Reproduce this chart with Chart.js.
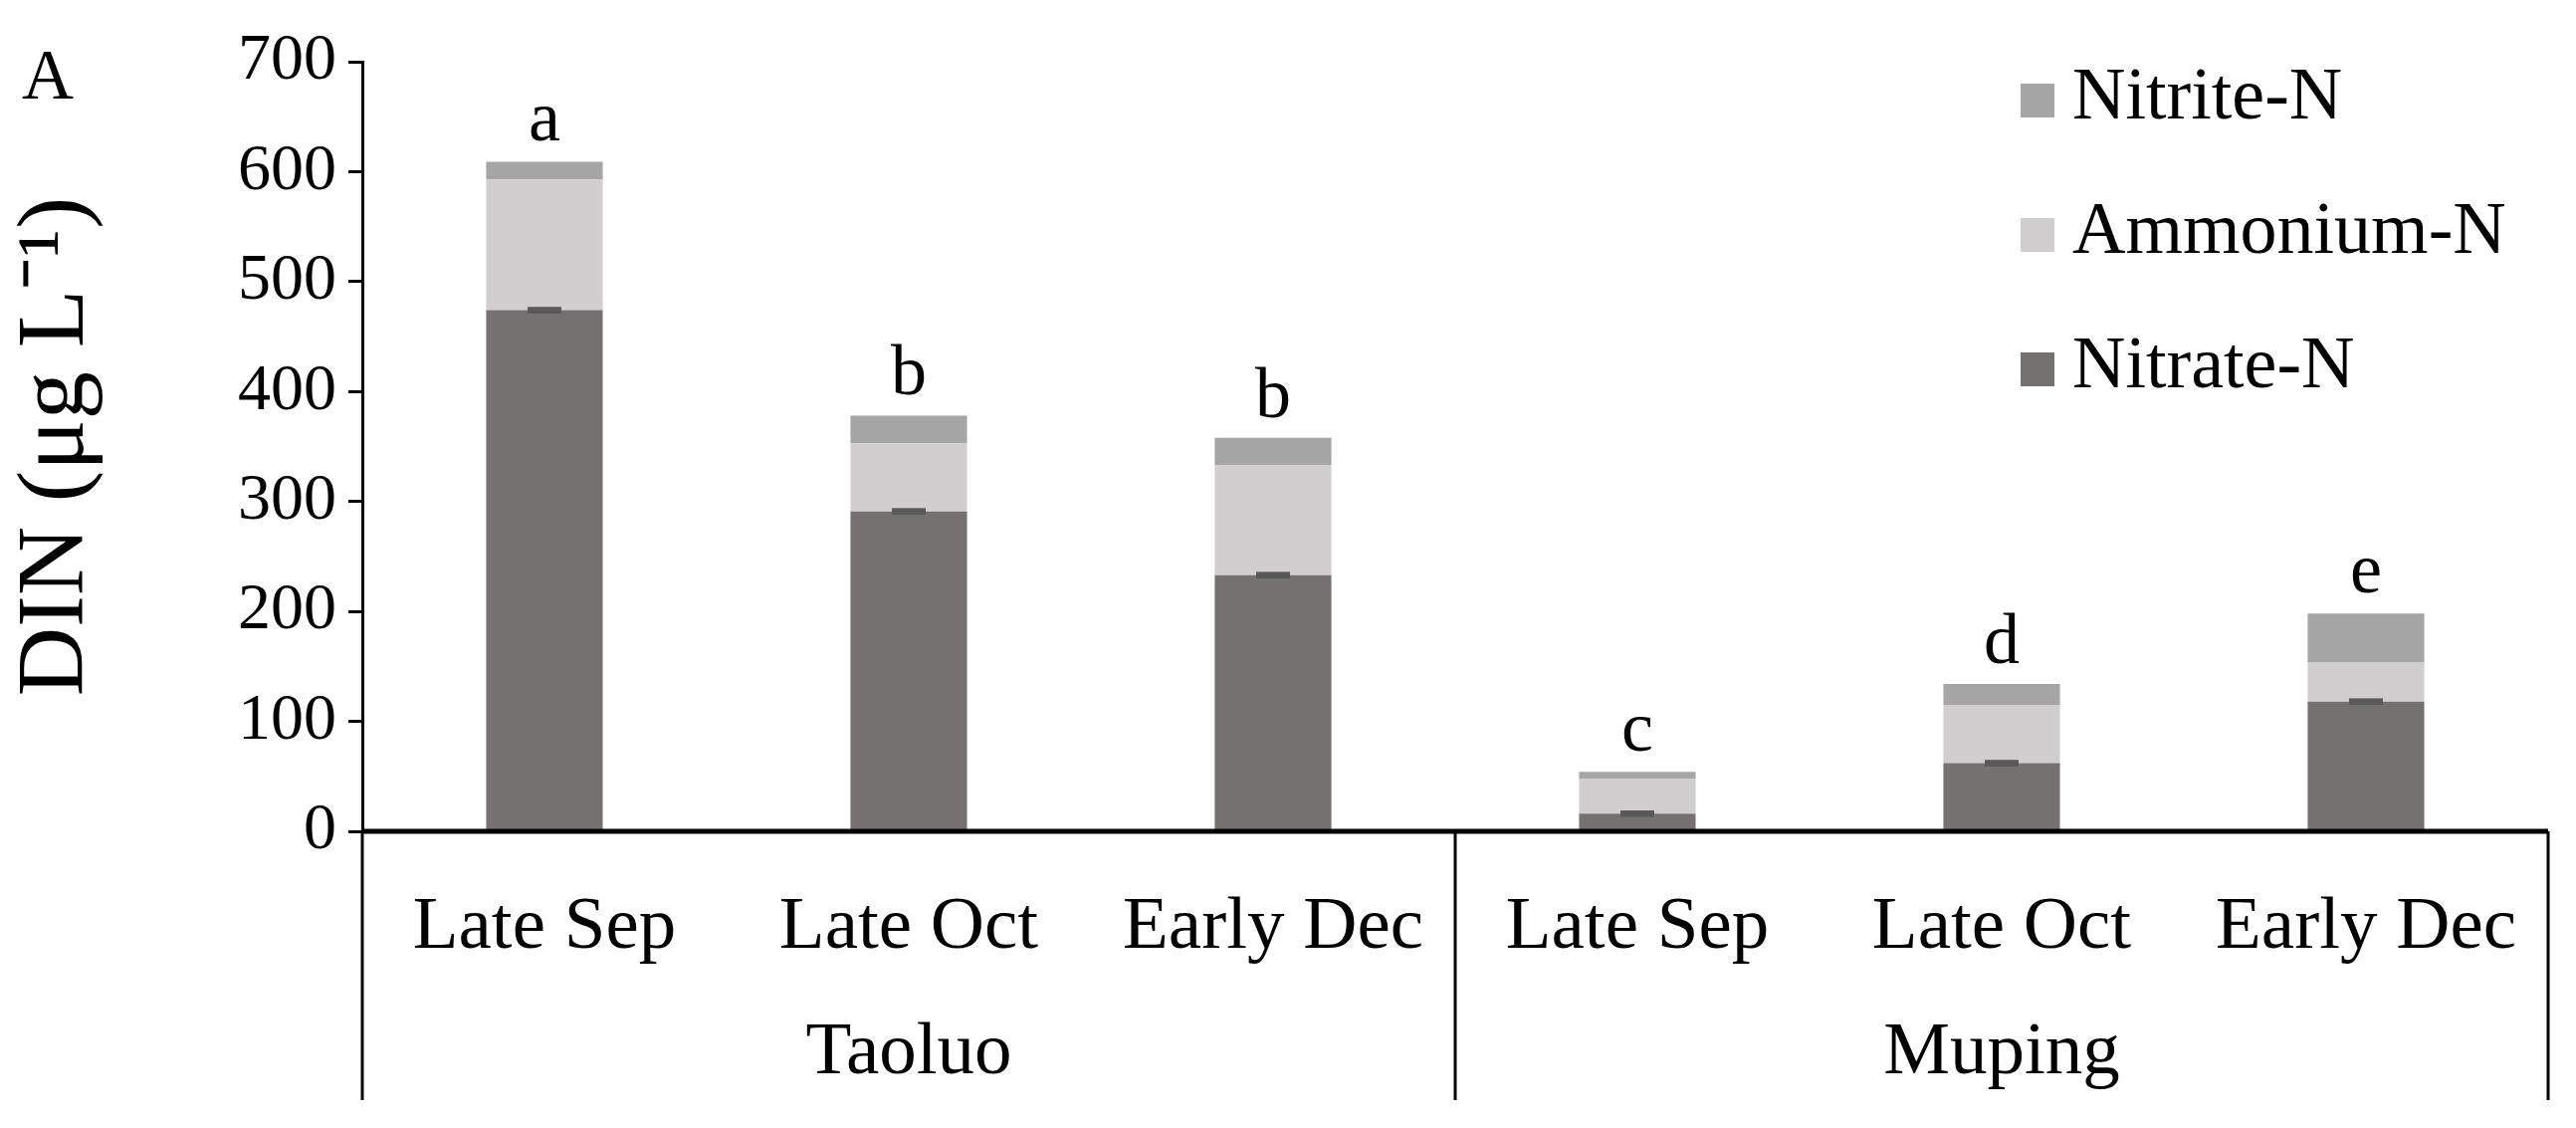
<!DOCTYPE html>
<html>
<head>
<meta charset="utf-8">
<script src="https://cdn.jsdelivr.net/npm/chart.js@4"></script>
<style>
  html, body { margin: 0; padding: 0; background: #fff; }
  #wrap { width: 2588px; height: 1133px; }
</style>
</head>
<body>
<div id="wrap"><canvas id="chart"></canvas></div>
<script>
var categories = ["Late Sep", "Late Oct", "Early Dec", "Late Sep", "Late Oct", "Early Dec"];
var groups = ["Taoluo", "Muping"];
var nitrate = [474, 291, 233, 16, 62, 118];
var ammonium = [119, 62, 100, 32, 53, 36];
var nitrite = [16, 25, 25, 6, 19, 44];
var nitrateErr = [3, 3, 3, 3, 3, 3];
var letters = ["a", "b", "b", "c", "d", "e"];

var FONT = "'Liberation Serif', 'Times New Roman', serif";

// letters, error caps, two-level axis, legend
var extras = {
    id: 'extras',
    afterDatasetsDraw: function(chart) {
        var ctx = chart.ctx;
        var x = chart.scales.x, y = chart.scales.y;
        var area = chart.chartArea;
        ctx.save();

        // error caps on nitrate
        var meta = chart.getDatasetMeta(0);
        ctx.fillStyle = '#595959';
        for (var i = 0; i < nitrate.length; i++) {
            var bx = meta.data[i].x;
            var y1 = y.getPixelForValue(nitrate[i] + nitrateErr[i]);
            var y2 = y.getPixelForValue(nitrate[i] - nitrateErr[i]);
            ctx.fillRect(bx - 17, y1, 34, Math.max(y2 - y1, 6));
        }

        // letters above bars
        ctx.fillStyle = '#000';
        ctx.font = '72px ' + FONT;
        ctx.textAlign = 'center';
        ctx.textBaseline = 'bottom';
        for (var i = 0; i < letters.length; i++) {
            var tot = nitrate[i] + ammonium[i] + nitrite[i];
            ctx.fillText(letters[i], x.getPixelForValue(i), y.getPixelForValue(tot) - 4);
        }

        // x axis: thick line and group separators
        ctx.strokeStyle = '#000';
        ctx.lineWidth = 5;
        ctx.beginPath();
        ctx.moveTo(area.left, area.bottom);
        ctx.lineTo(area.right, area.bottom);
        ctx.stroke();
        ctx.lineWidth = 3;
        var half = (x.getPixelForValue(1) - x.getPixelForValue(0)) / 2;
        var seps = [area.left, x.getPixelForValue(2) + half, area.right];
        seps.forEach(function(sx) {
            ctx.beginPath();
            ctx.moveTo(sx, area.bottom);
            ctx.lineTo(sx, 1105);
            ctx.stroke();
        });
        ctx.font = '75px ' + FONT;
        ctx.textBaseline = 'middle';
        for (var g = 0; g < groups.length; g++) {
            ctx.fillText(groups[g], (seps[g] + seps[g + 1]) / 2, 1058);
        }

        // panel letter
        ctx.textAlign = 'left';
        ctx.font = '72px ' + FONT;
        ctx.fillText('A', 22, 80);

        // legend, reversed order
        var items = chart.data.datasets.slice().reverse();
        ctx.font = '74px ' + FONT;
        for (var k = 0; k < items.length; k++) {
            var ly = 100 + k * 135;
            ctx.fillStyle = items[k].backgroundColor;
            ctx.fillRect(2030, ly - 16, 34, 34);
            ctx.fillStyle = '#000';
            ctx.fillText(items[k].label, 2082, ly);
        }
        ctx.restore();
    }
};

new Chart('chart', {
    type: 'bar',
    data: {
        labels: categories,
        datasets: [
            { label: 'Nitrate-N', data: nitrate, backgroundColor: '#767171' },
            { label: 'Ammonium-N', data: ammonium, backgroundColor: '#D0CECE' },
            { label: 'Nitrite-N', data: nitrite, backgroundColor: '#A5A5A5' }
        ]
    },
    options: {
        responsive: true,
        maintainAspectRatio: false,
        animation: false,
        barPercentage: 0.32,
        categoryPercentage: 1,
        layout: { padding: { top: 62, right: 28, left: 0, bottom: 0 } },
        plugins: { legend: { display: false }, tooltip: { enabled: false } },
        scales: {
            x: {
                stacked: true,
                grid: { display: false, drawTicks: false },
                border: { display: false },
                ticks: { color: '#000', padding: 52, font: { family: FONT, size: 75 } },
                afterFit: function(s) { s.height = 298; }
            },
            y: {
                stacked: true,
                min: 0, max: 700,
                ticks: { stepSize: 100, color: '#000', padding: 12, font: { family: FONT, size: 66 } },
                grid: { drawOnChartArea: false, tickLength: 14, color: '#000', lineWidth: 3 },
                border: { color: '#000', width: 3 },
                title: { display: true, text: 'DIN (μg L⁻¹)', color: '#000', padding: 0, font: { family: FONT, size: 96 } },
                afterFit: function(s) { s.width = 364; }
            }
        }
    },
    plugins: [extras]
});
</script>
</body>
</html>
